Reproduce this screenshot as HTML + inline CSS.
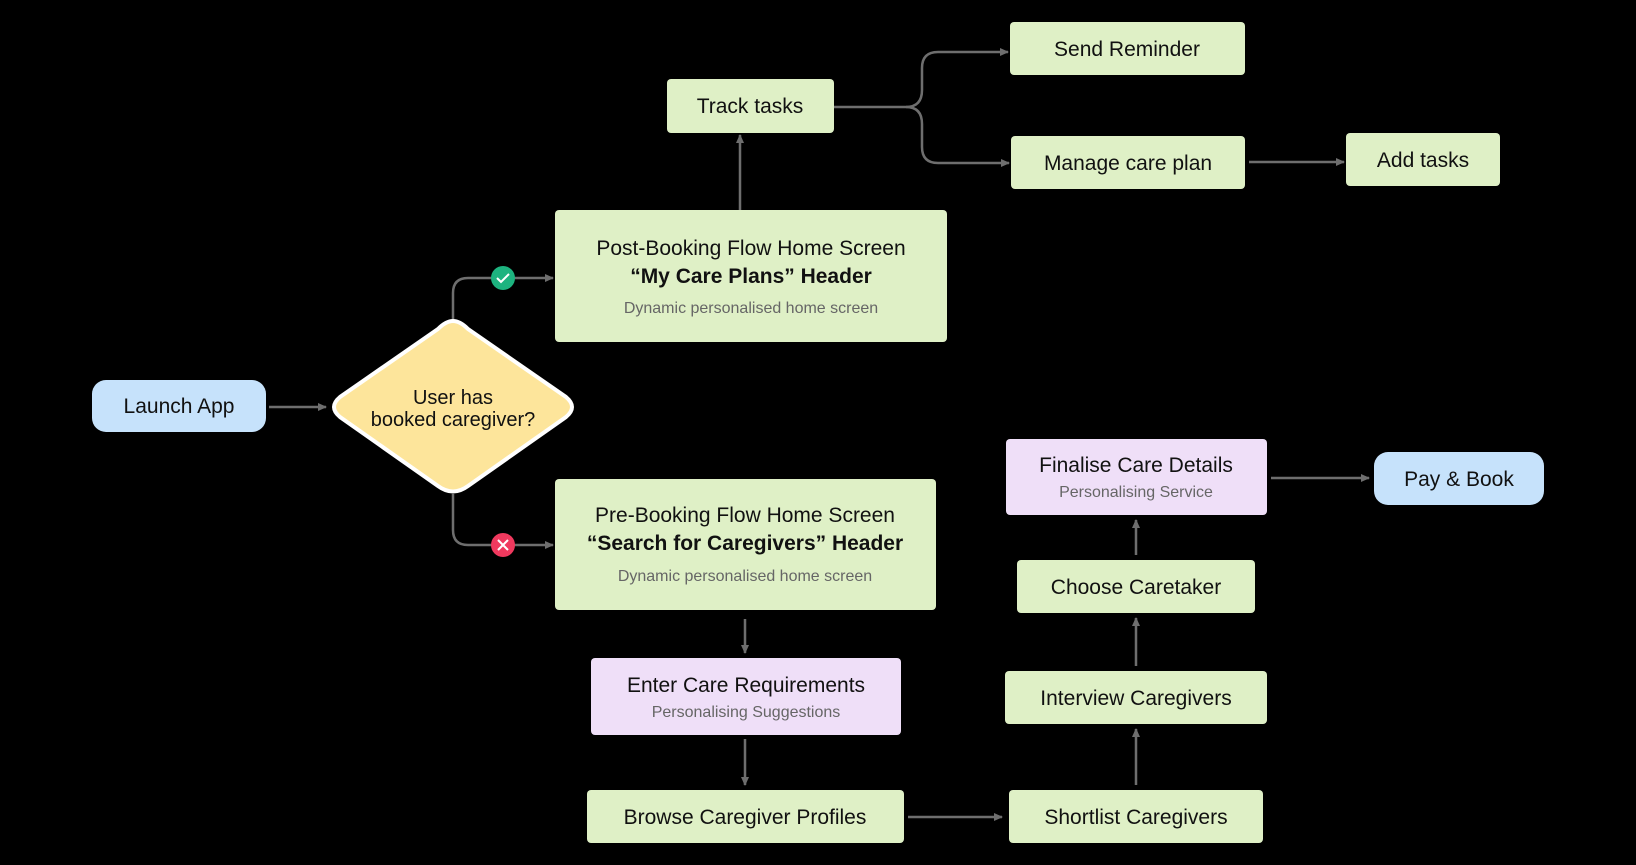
<!DOCTYPE html>
<html><head><meta charset="utf-8"><style>
html,body{margin:0;padding:0;background:#000;}
svg{display:block;font-family:"Liberation Sans",sans-serif;}
</style></head><body>
<svg width="1636" height="865" viewBox="0 0 1636 865" xmlns="http://www.w3.org/2000/svg">
<defs>
<marker id="a" markerWidth="10" markerHeight="10" refX="8" refY="5" orient="auto" markerUnits="userSpaceOnUse">
<path d="M0,1 L9,5 L0,9 Z" fill="#6e6e6e"/>
</marker>
</defs>
<g stroke="#6e6e6e" stroke-width="2.5" fill="none" marker-end="url(#a)">
<path d="M269,407 L326,407"/>
<path d="M453,320 L453,293 Q453,278 468,278 L553,278"/>
<path d="M453,494 L453,530 Q453,545 468,545 L553,545"/>
<path d="M740,210 L740,135"/>
<path d="M834,107 L906,107 Q922,107 922,90 L922,68 Q922,52 938,52 L1008,52"/>
<path d="M906,107 Q922,107 922,124 L922,147 Q922,163 938,163 L1009,163"/>
<path d="M1249,162 L1344,162"/>
<path d="M745,619 L745,653"/>
<path d="M745,739 L745,785"/>
<path d="M908,817 L1002,817"/>
<path d="M1136,785 L1136,729"/>
<path d="M1136,666 L1136,618"/>
<path d="M1136,555 L1136,520"/>
<path d="M1271,478 L1369,478"/>
</g>
<circle cx="503" cy="278" r="12" fill="#1db37f"/>
<path d="M497,278 L501,282 L509,274" stroke="#fff" stroke-width="2" fill="none"/>
<circle cx="503" cy="545" r="12" fill="#f0395e"/>
<path d="M498,540 L508,550 M508,540 L498,550" stroke="#fff" stroke-width="2"/>

<rect x="92" y="380" width="174" height="52" rx="14" fill="#c6e2fb"/>
<text x="179" y="413" font-size="21" text-anchor="middle" fill="#111">Launch App</text>

<path d="M453,321 Q460,321 468,329 L566,397 Q578,407 566,417 L468,486 Q453,497 438,486 L340,417 Q328,407 340,397 L438,329 Q446,321 453,321 Z" fill="#fde59b" stroke="#fff" stroke-width="4"/>
<text x="453" y="404" font-size="20" text-anchor="middle" fill="#111">User has</text>
<text x="453" y="426" font-size="20" text-anchor="middle" fill="#111">booked caregiver?</text>

<g fill="#dff0c6">
<rect x="555" y="210" width="392" height="132" rx="4"/>
<rect x="555" y="479" width="381" height="131" rx="4"/>
<rect x="667" y="79" width="167" height="54" rx="4"/>
<rect x="1010" y="22" width="235" height="53" rx="4"/>
<rect x="1011" y="136" width="234" height="53" rx="4"/>
<rect x="1346" y="133" width="154" height="53" rx="4"/>
<rect x="587" y="790" width="317" height="53" rx="4"/>
<rect x="1009" y="790" width="254" height="53" rx="4"/>
<rect x="1005" y="671" width="262" height="53" rx="4"/>
<rect x="1017" y="560" width="238" height="53" rx="4"/>
</g>
<g fill="#efdff8">
<rect x="591" y="658" width="310" height="77" rx="4"/>
<rect x="1006" y="439" width="261" height="76" rx="4"/>
</g>
<rect x="1374" y="452" width="170" height="53" rx="14" fill="#c6e2fb"/>

<g font-size="21" text-anchor="middle" fill="#111">
<text x="751" y="255">Post-Booking Flow Home Screen</text>
<text x="751" y="283" font-weight="bold">“My Care Plans” Header</text>
<text x="745" y="522">Pre-Booking Flow Home Screen</text>
<text x="745" y="550" font-weight="bold">“Search for Caregivers” Header</text>
<text x="750" y="113">Track tasks</text>
<text x="1127" y="56">Send Reminder</text>
<text x="1128" y="170">Manage care plan</text>
<text x="1423" y="167">Add tasks</text>
<text x="746" y="692">Enter Care Requirements</text>
<text x="745" y="824">Browse Caregiver Profiles</text>
<text x="1136" y="824">Shortlist Caregivers</text>
<text x="1136" y="705">Interview Caregivers</text>
<text x="1136" y="594">Choose Caretaker</text>
<text x="1136" y="472">Finalise Care Details</text>
<text x="1459" y="486">Pay &amp; Book</text>
</g>
<g font-size="16" text-anchor="middle" fill="#666">
<text x="751" y="313">Dynamic personalised home screen</text>
<text x="745" y="581">Dynamic personalised home screen</text>
<text x="746" y="717">Personalising Suggestions</text>
<text x="1136" y="497">Personalising Service</text>
</g>
</svg>
</body></html>
